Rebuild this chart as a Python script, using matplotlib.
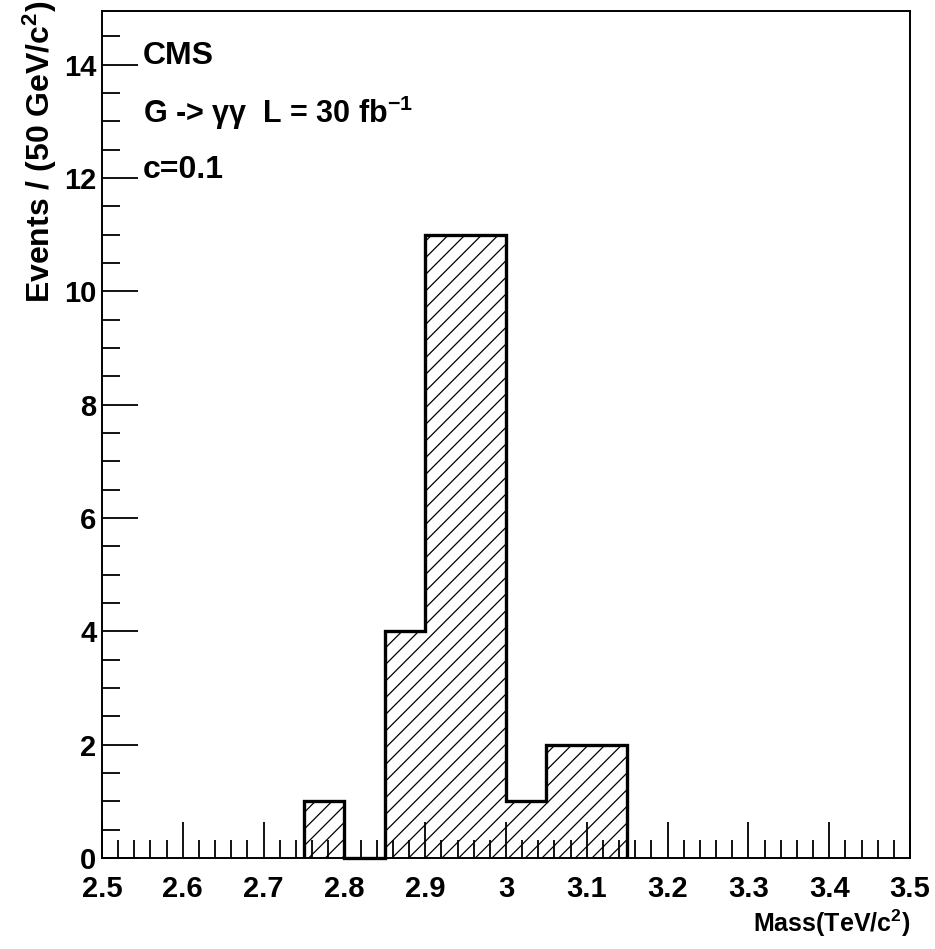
import matplotlib
matplotlib.use('Agg')
import matplotlib.pyplot as plt
from matplotlib.ticker import MultipleLocator

plt.rcParams['font.family'] = ['Liberation Sans', 'DejaVu Sans']
plt.rcParams['font.weight'] = 'bold'
plt.rcParams['mathtext.default'] = 'regular'
plt.rcParams['hatch.linewidth'] = 0.9

# histogram bins (TeV/c^2) and event counts
edges = [2.75, 2.80, 2.85, 2.90, 2.95, 3.00, 3.05, 3.10, 3.15]
counts = [1, 0, 4, 11, 11, 1, 2, 2]

xticks = [2.5, 2.6, 2.7, 2.8, 2.9, 3.0, 3.1, 3.2, 3.3, 3.4, 3.5]
xticklabels = ['2.5', '2.6', '2.7', '2.8', '2.9', '3', '3.1', '3.2', '3.3', '3.4', '3.5']
yticks = [0, 2, 4, 6, 8, 10, 12, 14]

fig = plt.figure(figsize=(9.35, 9.49), dpi=100)
ax = fig.add_axes([102/935, 91/949, 808/935, 847/949])

ax.stairs(counts, edges, fill=True, facecolor='white', edgecolor='black',
          hatch='//', linewidth=0, zorder=1)
ax.stairs(counts, edges, fill=False, color='black', linewidth=2.4,
          zorder=5, clip_on=False)

ax.set_xlim(2.5, 3.5)
ax.set_ylim(0, 14.95)

ax.set_xticks(xticks)
ax.set_xticklabels(xticklabels)
ax.set_yticks(yticks)
ax.xaxis.set_minor_locator(MultipleLocator(0.02))
ax.yaxis.set_minor_locator(MultipleLocator(0.5))

ax.tick_params(axis='both', which='both', direction='in', width=1.3,
               top=False, right=False, labelsize=21)
ax.tick_params(axis='both', which='major', length=26)
ax.tick_params(axis='both', which='minor', length=13)
ax.tick_params(axis='x', which='major', pad=12)
ax.tick_params(axis='y', which='major', pad=4)
for sp in ax.spines.values():
    sp.set_linewidth(1.4)
    sp.set_zorder(4)


def ax_y(pix):
    return (858 - pix) / 847


tx = (143 - 102) / 808
ax.text(tx, ax_y(64), 'CMS', transform=ax.transAxes,
        fontsize=23, va='baseline', ha='left')
ax.text(tx, ax_y(123), 'G -> \u03b3\u03b3  L = 30 fb$^{-1}$',
        transform=ax.transAxes, fontsize=22, va='baseline', ha='left')
ax.text(tx, ax_y(178), 'c=0.1', transform=ax.transAxes,
        fontsize=23, va='baseline', ha='left')

fig.text(40/935, 1 - 1/949, 'Events / (50 GeV/c$^{2}$)', rotation=90,
         ha='center', va='top', fontsize=23)
fig.text(910/935, 26/949, 'Mass(TeV/c$^{2}$)', ha='right', va='center',
         fontsize=18)

fig.savefig('out.png', dpi=100)
